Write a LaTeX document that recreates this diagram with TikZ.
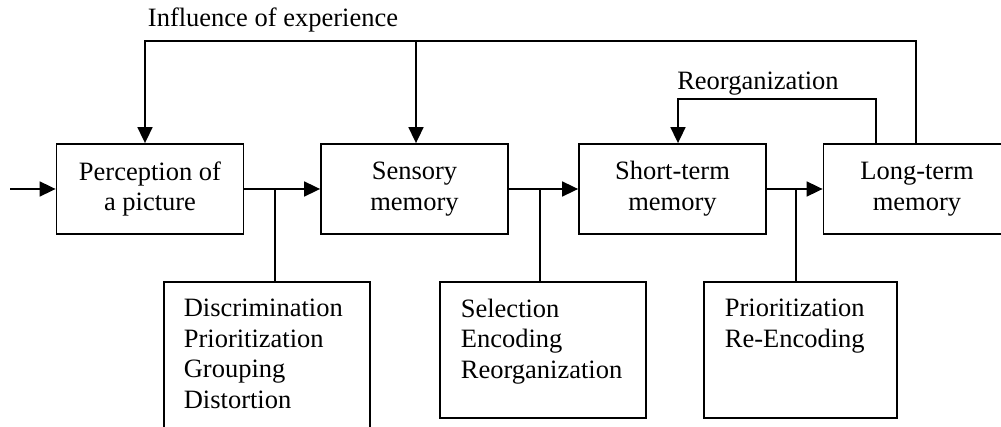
\documentclass[tikz,border=0pt]{standalone}
\usepackage{fontspec}
\setmainfont{Liberation Serif}
\usetikzlibrary{arrows.meta}

\tikzset{
  stage/.style={draw, line width=1.8pt, minimum width=187pt, minimum height=90pt,
    inner sep=0pt, align=center},
  subbox/.style={draw, line width=1.8pt, anchor=north west, inner sep=0pt},
  listtext/.style={anchor=north west, inner sep=0pt, align=left},
  arr/.style={-{Triangle[length=16pt, width=15pt]}}
}

\begin{document}
\begin{tikzpicture}[x=1pt, y=-1pt, line width=1.7pt,
  font=\fontsize{26.5pt}{30.7pt}\selectfont]

  \clip (0,0) rectangle (1001,427);

  \node [stage] (percep) at (150,189) {Perception of\\a picture};
  \node [stage] (sensory) at (414.5,189) {Sensory\\memory};
  \node [stage] (stm) at (672.5,189) {Short-term\\memory};
  \node [stage] (ltm) at (917,189) {Long-term\\memory};

  \coordinate (in) at (10,189);
  \draw [arr] (in) -- (percep);
  \draw [arr] (percep) -- (sensory);
  \draw [arr] (sensory) -- (stm);
  \draw [arr] (stm) -- (ltm);

  \node [subbox, minimum width=206pt, minimum height=180pt] (disc) at (163,281) {};
  \node [subbox, minimum width=206pt, minimum height=136pt] (sel) at (439,281) {};
  \node [subbox, minimum width=193pt, minimum height=136pt] (prio) at (703,281) {};

  \node [listtext] (disctext) at (183,298) {Discrimination\\Prioritization\\Grouping\\Distortion};
  \node [listtext] (seltext) at (460,298) {Selection\\Encoding\\Reorganization};
  \node [listtext] (priotext) at (724,298) {Prioritization\\Re-Encoding};

  \coordinate (b1) at (275,189);
  \coordinate (b2) at (540,189);
  \coordinate (b3) at (796,189);
  \draw (b1) -- (b1 |- disc.north);
  \draw (b2) -- (b2 |- sel.north);
  \draw (b3) -- (b3 |- prio.north);

  % feedback from long-term memory
  \coordinate (topR) at (916,41);
  \coordinate (topL) at (145,41);
  \coordinate (topM) at (416,41);
  \draw [arr] (topR |- ltm.north) -- (topR) -- (topL) -- (topL |- percep.north);
  \draw [arr] (topM) -- (topM |- sensory.north);
  \node [anchor=base] (infl) at (273,27) {Influence of experience};

  \coordinate (loopR) at (876,99);
  \coordinate (loopL) at (678,99);
  \draw [arr] (loopR |- ltm.north) -- (loopR) -- (loopL) -- (loopL |- stm.north);
  \node [anchor=base] (reorg) at (758,90) {Reorganization};

\end{tikzpicture}
\end{document}
